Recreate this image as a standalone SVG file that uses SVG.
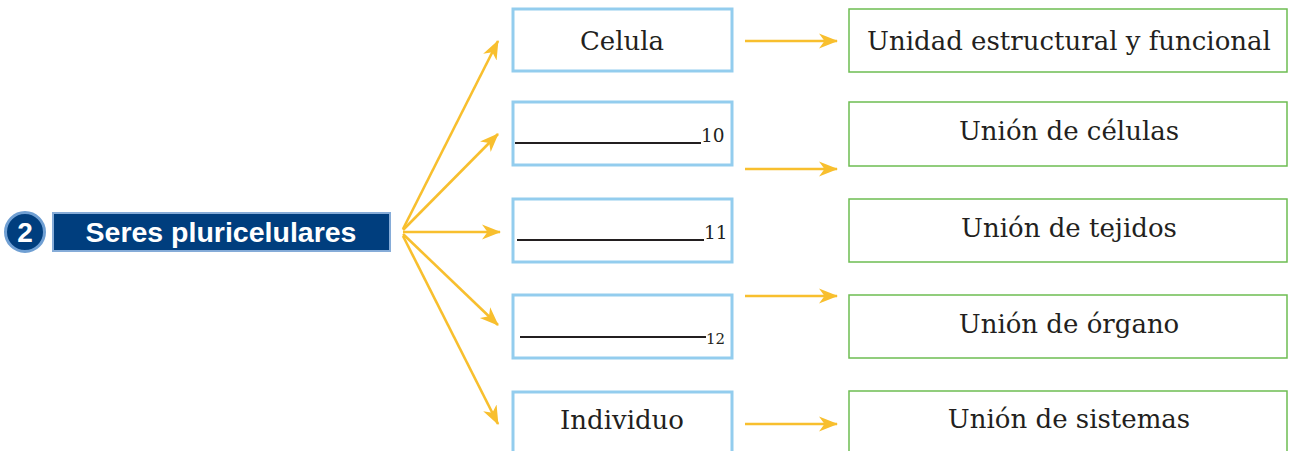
<svg xmlns="http://www.w3.org/2000/svg" width="1296" height="451" viewBox="0 0 1296 451">
<style>
.bg{fill:#ffffff}
.blue{fill:#ffffff;stroke:#93cdee;stroke-width:3}
.green{fill:#ffffff;stroke:#6dbd52;stroke-width:1.5}
.serif{font-family:"DejaVu Serif","Liberation Serif",serif;fill:#231f20;font-size:26px}
.num{font-family:"DejaVu Serif","Liberation Serif",serif;fill:#231f20}
.blank{stroke:#231f20;stroke-width:2}
.arr{stroke:#F8BF2E;stroke-width:2.6;fill:none;marker-end:url(#ah)}
.head{font-family:"Liberation Sans",Arial,sans-serif;font-weight:bold;fill:#ffffff}
</style>
<defs>
<marker id="ah" markerWidth="20" markerHeight="18" refX="18" refY="9" orient="auto" markerUnits="userSpaceOnUse">
<path d="M0,1.5 L19,9 L0,16.5 L5.5,9 Z" fill="#F8BF2E"/>
</marker>
</defs>
<rect class="bg" x="0" y="0" width="1296" height="451"/>

<g id="header">
<circle cx="25" cy="232" r="19.5" fill="#003e7e" stroke="#6f9fd3" stroke-width="3"/>
<text class="head" x="25" y="242" font-size="28" text-anchor="middle">2</text>
<rect x="53" y="213" width="337" height="38" fill="#003e7e" stroke="#86acd8" stroke-width="2"/>
<text class="head" x="221" y="242" font-size="28.5" text-anchor="middle">Seres pluricelulares</text>
</g>

<g id="connectors">
<line class="arr" x1="403" y1="229" x2="498" y2="41"/>
<line class="arr" x1="403" y1="230" x2="498" y2="134"/>
<line class="arr" x1="403" y1="232" x2="500" y2="232"/>
<line class="arr" x1="403" y1="234" x2="498" y2="325"/>
<line class="arr" x1="403" y1="236" x2="498" y2="424"/>
<line class="arr" x1="745" y1="41" x2="837" y2="41"/>
<line class="arr" x1="745" y1="169" x2="837" y2="169"/>
<line class="arr" x1="745" y1="296" x2="837" y2="296"/>
<line class="arr" x1="745" y1="424" x2="837" y2="424"/>
</g>

<g id="celula">
<rect class="blue" x="513" y="9" width="219" height="62"/>
<text class="serif" x="622" y="50" text-anchor="middle">Celula</text>
</g>
<g id="blank10">
<rect class="blue" x="513" y="102" width="219" height="63"/>
<line class="blank" x1="515" y1="143" x2="701" y2="143"/>
<text class="num" x="701" y="142" font-size="18.5">10</text>
</g>
<g id="blank11">
<rect class="blue" x="513" y="199" width="219" height="63"/>
<line class="blank" x1="517" y1="240" x2="704" y2="240"/>
<text class="num" x="704" y="239" font-size="18.5">11</text>
</g>
<g id="blank12">
<rect class="blue" x="513" y="295" width="219" height="63"/>
<line class="blank" x1="520" y1="337" x2="706" y2="337"/>
<text class="num" x="706" y="344" font-size="15">12</text>
</g>
<g id="individuo">
<rect class="blue" x="513" y="392" width="219" height="70"/>
<text class="serif" x="622" y="429" text-anchor="middle">Individuo</text>
</g>

<g id="unidad">
<rect class="green" x="849" y="9" width="438" height="63"/>
<text class="serif" x="1069" y="50" text-anchor="middle">Unidad estructural y funcional</text>
</g>
<g id="celulas">
<rect class="green" x="849" y="102" width="438" height="64"/>
<text class="serif" x="1069" y="140" text-anchor="middle">Unión de células</text>
</g>
<g id="tejidos">
<rect class="green" x="849" y="199" width="438" height="63"/>
<text class="serif" x="1069" y="237" text-anchor="middle">Unión de tejidos</text>
</g>
<g id="organo">
<rect class="green" x="849" y="295" width="438" height="63"/>
<text class="serif" x="1069" y="333" text-anchor="middle">Unión de órgano</text>
</g>
<g id="sistemas">
<rect class="green" x="849" y="391" width="438" height="70"/>
<text class="serif" x="1069" y="428" text-anchor="middle">Unión de sistemas</text>
</g>
</svg>
